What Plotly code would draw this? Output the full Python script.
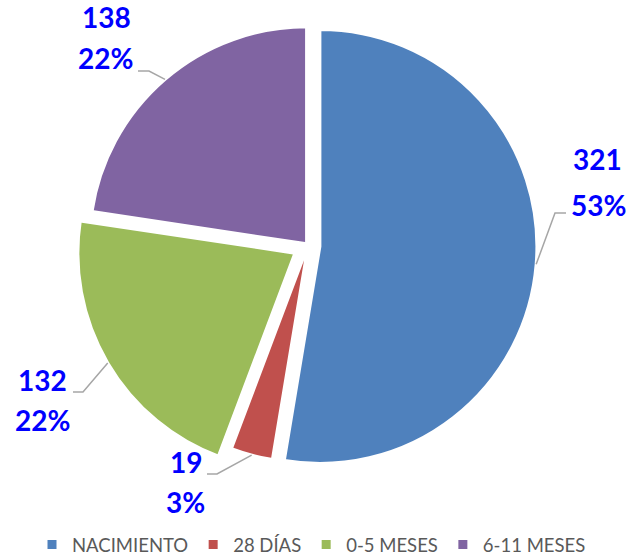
import math
import plotly.graph_objects as go

# ---- data ----
categories = ["NACIMIENTO", "28 DÍAS", "0-5 MESES", "6-11 MESES"]
values = [321, 19, 132, 138]
percent_labels = ["53%", "3%", "22%", "22%"]

# ---- styles ----
colors = ["#4F81BD", "#C0504D", "#9BBB59", "#8064A2"]
pulls = [0.055, 0.0, 0.07, 0.01]
LABEL_COLOR = "#0000FF"
LEADER_COLOR = "#A6A6A6"
FONT = "Lato"

W, H = 630, 557
CX, CY = 308, 245.5    # pie centre (px)
R = 217                # pie radius (px)

max_pull = max(pulls)
box = 2 * R * (1 + max_pull)
dom_x = [(CX - box / 2) / W, (CX + box / 2) / W]
dom_y = [1 - (CY + box / 2) / H, 1 - (CY - box / 2) / H]


def px(x):
    return x / W


def py(y):
    return 1 - y / H


fig = go.Figure(
    go.Pie(
        labels=categories,
        values=values,
        sort=False,
        direction="clockwise",
        rotation=0,
        pull=pulls,
        textinfo="none",
        hoverinfo="skip",
        marker=dict(colors=colors, line=dict(color="white", width=3)),
        domain=dict(x=dom_x, y=dom_y),
    )
)

# label layout (pixel positions): value line centre, percent line centre, elbow, line end
label_layout = [
    dict(v=(597, 161), p=(598, 207), elbow=(555, 213), end=(566, 213)),
    dict(v=(186, 464), p=(185, 504), elbow=(217, 474), end=(207, 474)),
    dict(v=(42, 382), p=(43, 422), elbow=(83, 392), end=(73, 392)),
    dict(v=(106, 19), p=(105, 60), elbow=(149, 71), end=(138, 71)),
]

total = sum(values)
cum = 0
annotations = []
shapes = []
for i, v in enumerate(values):
    mid = (cum + v / 2) / total * 2 * math.pi
    cum += v
    dx, dy = math.sin(mid), -math.cos(mid)
    rr = R * (1 + pulls[i])
    ex, ey = CX + rr * dx, CY + rr * dy
    L = label_layout[i]
    shapes.append(dict(
        type="path", xref="paper", yref="paper",
        path=f"M {px(ex)} {py(ey)} L {px(L['elbow'][0])} {py(L['elbow'][1])} L {px(L['end'][0])} {py(L['end'][1])}",
        line=dict(color=LEADER_COLOR, width=1.5),
    ))
    for txt, pos in ((str(v), L["v"]), (percent_labels[i], L["p"])):
        annotations.append(dict(
            text=f"<b>{txt}</b>", x=px(pos[0]), y=py(pos[1] - 2),
            xref="paper", yref="paper", xanchor="center", yanchor="middle",
            showarrow=False, font=dict(family=FONT, size=28, color=LABEL_COLOR),
        ))

fig.update_layout(
    width=W, height=H,
    margin=dict(l=0, r=0, t=0, b=0, autoexpand=False),
    paper_bgcolor="white", plot_bgcolor="white",
    showlegend=True,
    legend=dict(
        orientation="h", x=32 / W, xanchor="left",
        y=py(545), yanchor="middle",
        font=dict(family=FONT, size=18.5, color="#595959"),
        traceorder="normal",
    ),
    annotations=annotations,
    shapes=shapes,
)

fig.write_html(
    "out.html",
    config={"displayModeBar": False},
    post_script="document.body.style.margin='0';document.body.style.overflow='hidden';",
)
